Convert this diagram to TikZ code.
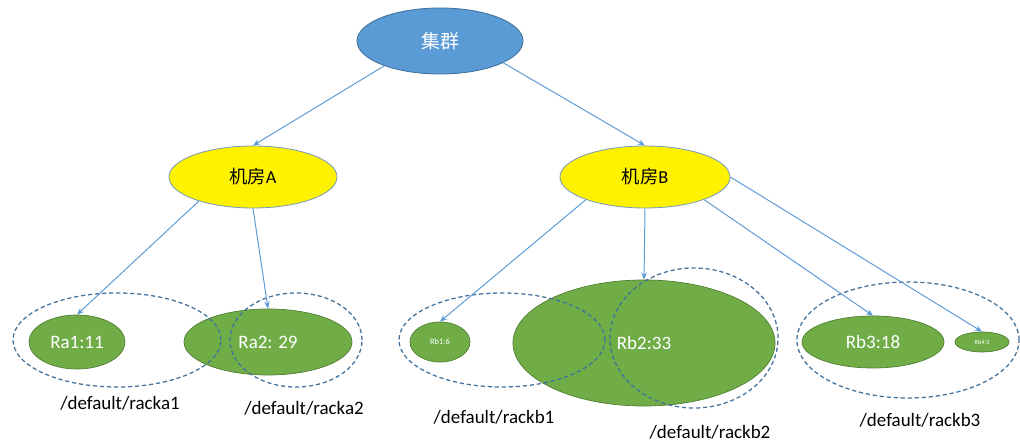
\documentclass[tikz,border=0pt]{standalone}
\usepackage{fontspec}
\setmainfont{Carlito}
\newfontfamily\cjk{Noto Sans CJK SC}
\usetikzlibrary{shapes.geometric,arrows.meta}
\definecolor{clusterblue}{HTML}{5B9BD5}
\definecolor{clusteredge}{HTML}{41719C}
\definecolor{rackgreen}{HTML}{70AD47}
\definecolor{rackedge}{HTML}{507E32}
\definecolor{linkblue}{HTML}{5B9BD5}
\definecolor{groupedge}{HTML}{41719C}
\tikzset{
    cluster/.style={ellipse,draw=clusteredge,fill=clusterblue,line width=0.6pt,
        inner sep=0pt,text=white,font=\cjk\fontsize{13.5}{15}\selectfont},
    room/.style={ellipse,draw=clusteredge!70,fill=yellow,line width=0.6pt,
        inner sep=0pt,text=black,font=\fontsize{13}{15}\selectfont},
    rack/.style={ellipse,draw=rackedge,fill=rackgreen,line width=0.5pt,
        inner sep=0pt,text=white,font=\fontsize{13.5}{15}\selectfont},
    group/.style={ellipse,draw=groupedge,dashed,line width=0.9pt,
        dash pattern=on 3pt off 2pt,inner sep=0pt},
    rackname/.style={font=\fontsize{13.5}{15}\selectfont,text=black},
    link/.style={draw=linkblue,line width=0.7pt,-{Stealth[length=5pt,width=4pt]}}
}
\begin{document}
\begin{tikzpicture}[x=0.025cm,y=-0.025cm]
    \useasboundingbox (0,0) rectangle (1020,444);

    % Cluster and rooms
    \node[cluster,minimum width=4.15cm,minimum height=1.65cm] (cl) at (440,41) {集群};
    \node[room,minimum width=4.2cm,minimum height=1.55cm] (roomA) at (253,177) {{\cjk 机房}A};
    \node[room,minimum width=4.25cm,minimum height=1.55cm] (roomB) at (645,177) {{\cjk 机房}B};

    % Racks
    \node[rack,minimum width=2.4cm,minimum height=1.35cm] (ra1) at (77,342) {Ra1:11};
    \node[rack,minimum width=4.2cm,minimum height=1.65cm] (ra2) at (268,342) {Ra2: 29};
    \node[rack,minimum width=1.5cm,minimum height=1.0cm,font=\fontsize{6}{7}\selectfont] (rb1) at (440,342) {Rb1:6};
    \node[rack,minimum width=6.55cm,minimum height=3.15cm] (rb2) at (644,343) {Rb2:33};
    \node[rack,minimum width=3.55cm,minimum height=1.3cm] (rb3) at (873,342) {Rb3:18};
    \node[rack,minimum width=1.35cm,minimum height=0.5cm,font=\fontsize{4.5}{5}\selectfont] (rb4) at (982,342) {Rb4:3};

    % Rack groups
    \node[group,minimum width=5.2cm,minimum height=2.35cm] (gA1) at (117,340) {};
    \node[group,minimum width=3.3cm,minimum height=2.35cm] (gA2) at (296,340) {};
    \node[group,minimum width=5.15cm,minimum height=2.35cm] (gB1) at (502,340) {};
    \node[group,minimum width=4.2cm,minimum height=3.5cm] (gB2) at (694,338) {};
    \node[group,minimum width=5.55cm,minimum height=2.9cm] (gB3) at (908,340) {};

    \node[rackname] (lA1) at (120,403) {/default/racka1};
    \node[rackname] (lA2) at (304,408) {/default/racka2};
    \node[rackname] (lB1) at (494,417) {/default/rackb1};
    \node[rackname] (lB2) at (710,432) {/default/rackb2};
    \node[rackname] (lB3) at (920,420) {/default/rackb3};

    % Links
    \draw[link] (cl.204) -- (roomA.north);
    \draw[link] (cl.341) -- (roomB.north);
    \draw[link] (roomA.204) -- (ra1.north);
    \draw[link] (roomA.south) -- (ra2.north);
    \draw[link] (roomB.201) -- (rb1.north);
    \draw[link] (roomB.south) -- (rb2.north);
    \draw[link] (roomB.339) -- (rb3.north);
    \draw[link] (roomB.east) -- (rb4.north);

\end{tikzpicture}
\end{document}
